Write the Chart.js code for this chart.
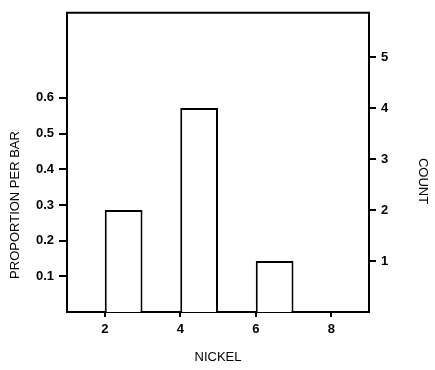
<!DOCTYPE html>
<html>
<head>
<meta charset="utf-8">
<script src="https://cdn.jsdelivr.net/npm/chart.js@4/dist/chart.umd.min.js"></script>
<style>
  html, body { margin: 0; padding: 0; background: #fff; }
  #wrap { width: 435px; height: 370px; }
</style>
</head>
<body>
<div id="wrap"><canvas id="histChart" width="435" height="370"></canvas></div>
<script>
// Histogram of NICKEL (bins of width 1)
const binStarts = [2, 4, 6];
const binEnds = [3, 5, 7];
const counts = [2, 4, 1];
const totalCount = 7;

const xTicks = [2, 4, 6, 8];
const xRange = [1, 9];
const countTicks = [1, 2, 3, 4, 5];
const propTicks = [0.1, 0.2, 0.3, 0.4, 0.5, 0.6];
const countAxisMax = 5.87;

const xTitle = 'NICKEL';
const leftTitle = 'PROPORTION PER BAR';
const rightTitle = 'COUNT';

const FONT = "'Liberation Sans', Arial, Helvetica, sans-serif";

// Frame top line + axis titles
const framePlugin = {
    id: 'framePlugin',
    afterDraw(chart) {
        const ctx = chart.ctx;
        const a = chart.chartArea;
        ctx.save();
        ctx.strokeStyle = '#000';
        ctx.lineWidth = 2;
        ctx.beginPath();
        ctx.moveTo(a.left - 1, a.top);
        ctx.lineTo(a.right + 1, a.top);
        ctx.stroke();

        ctx.fillStyle = '#000';
        ctx.font = '13px ' + FONT;
        ctx.textAlign = 'center';
        ctx.textBaseline = 'middle';

        ctx.fillText(xTitle, (a.left + a.right) / 2, a.bottom + 45);

        ctx.save();
        ctx.translate(15, a.bottom - 107);
        ctx.rotate(-Math.PI / 2);
        ctx.fillText(leftTitle, 0, 0);
        ctx.restore();

        ctx.save();
        ctx.translate(423, a.bottom - 131);
        ctx.rotate(Math.PI / 2);
        ctx.fillText(rightTitle, 0, 0);
        ctx.restore();
        ctx.restore();
    }
};

document.addEventListener('DOMContentLoaded', function() {
    const ctx = document.getElementById('histChart').getContext('2d');
    const points = binStarts.map((s, i) => ({ x: (s + binEnds[i]) / 2, y: counts[i] }));

    const tickFont = { family: FONT, size: 13, weight: 'bold' };

    new Chart(ctx, {
        type: 'bar',
        data: {
            datasets: [{
                data: points,
                yAxisID: 'count',
                backgroundColor: '#fff',
                borderColor: '#000',
                borderWidth: 2,
                categoryPercentage: 0.5,
                barPercentage: 1
            }]
        },
        options: {
            responsive: false,
            animation: false,
            layout: { padding: { top: 8, left: 0, right: 0, bottom: 0 } },
            plugins: {
                legend: { display: false },
                tooltip: { enabled: false }
            },
            scales: {
                x: {
                    type: 'linear',
                    min: xRange[0],
                    max: xRange[1],
                    offset: false,
                    afterBuildTicks: s => { s.ticks = xTicks.map(v => ({ value: v })); },
                    afterFit: s => { s.height = 58; },
                    grid: { display: true, drawOnChartArea: false, drawTicks: true, tickLength: 5, color: '#000', lineWidth: 2, offset: false },
                    border: { display: true, color: '#000', width: 2 },
                    ticks: { color: '#000', font: tickFont, padding: 5, maxRotation: 0 }
                },
                prop: {
                    type: 'linear',
                    position: 'left',
                    min: 0,
                    max: countAxisMax / totalCount,
                    afterBuildTicks: s => { s.ticks = propTicks.map(v => ({ value: v })); },
                    afterFit: s => { s.width = 67; },
                    grid: { display: true, drawOnChartArea: false, drawTicks: true, tickLength: 8, color: '#000', lineWidth: 2 },
                    border: { display: true, color: '#000', width: 2 },
                    ticks: { color: '#000', font: tickFont, padding: 5, callback: v => v.toFixed(1) }
                },
                count: {
                    type: 'linear',
                    position: 'right',
                    min: 0,
                    max: countAxisMax,
                    afterBuildTicks: s => { s.ticks = countTicks.map(v => ({ value: v })); },
                    afterFit: s => { s.width = 66; },
                    grid: { display: true, drawOnChartArea: false, drawTicks: true, tickLength: 7, color: '#000', lineWidth: 2 },
                    border: { display: true, color: '#000', width: 2 },
                    ticks: { color: '#000', font: tickFont, padding: 5, callback: v => String(v) }
                }
            }
        },
        plugins: [framePlugin]
    });
});
</script>
</body>
</html>
